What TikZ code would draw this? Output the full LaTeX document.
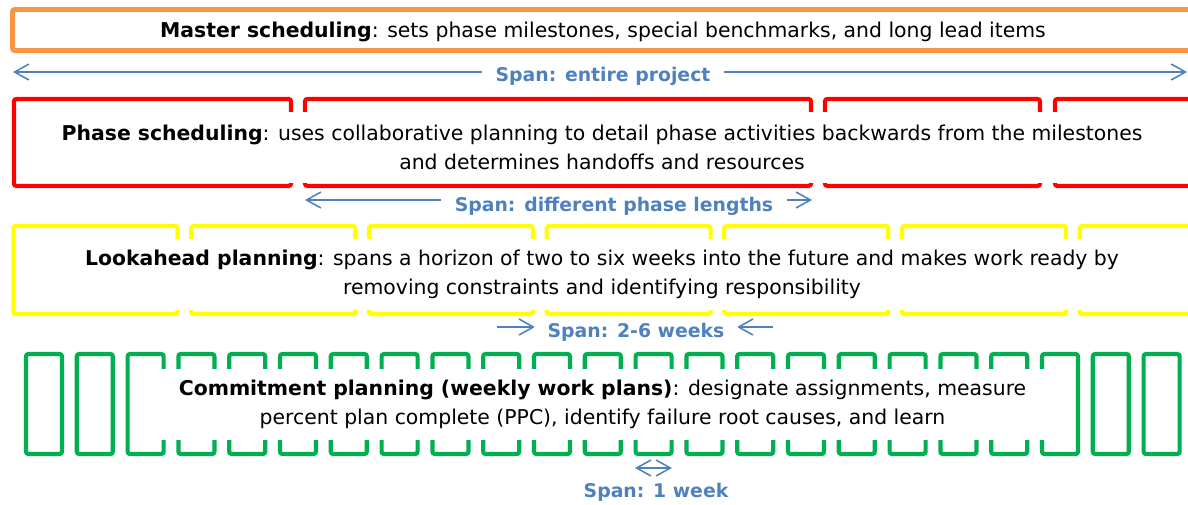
\documentclass[tikz,border=0pt]{standalone}
\usepackage{fontspec}
\setmainfont{DejaVu Sans}
\usetikzlibrary{arrows.meta}

\definecolor{mastercol}{HTML}{F79646}
\definecolor{phasecol}{HTML}{FF0000}
\definecolor{lookcol}{HTML}{FFFF00}
\definecolor{weekcol}{HTML}{00B050}
\definecolor{spancol}{HTML}{4F81BD}

\begin{document}
\begin{tikzpicture}[x=0.25mm,y=-0.25mm]
\tikzstyle{every node}+=[inner sep=0pt]
\tikzstyle{textbox}=[fill=white,align=center,font=\fontsize{14.5}{20.8}\selectfont]
\tikzstyle{framebox}=[line width=1.05mm,rounded corners=0.6mm]
\tikzstyle{spanline}=[spancol,line width=1.1pt,-{Straight Barb[length=3.6mm,width=4mm]}]
\tikzstyle{spanboth}=[spanline,{Straight Barb[length=3.6mm,width=4mm]}-{Straight Barb[length=3.6mm,width=4mm]}]
\tikzstyle{spanlabel}=[fill=white,inner xsep=3.5mm,inner ysep=1pt,text=spancol,font=\bfseries\fontsize{13.4}{16}\selectfont]
\useasboundingbox (0,0) rectangle (1188,504);
\clip (0,0) rectangle (1188,504);
% master scheduling
\draw [mastercol,framebox,line width=1.25mm] (12.5,9.5) rectangle (1196,50.5);
\node [textbox,fill=none] (master) at (603,32) {\textbf{Master scheduling}: sets phase milestones, special benchmarks, and long lead items};
\coordinate (e1) at (13,72);
\coordinate (e2) at (1187,72);
\draw [spanboth] (e1) -- (e2);
\node [spanlabel] (entire) at (603,76) {Span: entire project};
% phase scheduling
\foreach \a/\b in {14/291,305/811,825/1040,1055/1250}
  \draw [phasecol,framebox] (\a,99) rectangle (\b,186);
\node [textbox,minimum width=1158*0.25mm,minimum height=71*0.25mm] (phase) at (602,147.5) {\textbf{Phase scheduling}: uses collaborative planning to detail phase activities backwards from the milestones\\and determines handoffs and resources};
\coordinate (p1) at (305,200);
\coordinate (p2) at (812,200);
\draw [spanboth] (p1) -- (p2);
\node [spanlabel] (phaselen) at (614,206) {Span: different phase lengths};
% lookahead planning
\foreach \k in {0,...,6}
  \draw [lookcol,framebox] ({13.5+177.7*\k},226) rectangle ({177.5+177.7*\k},314);
\node [textbox,minimum width=1158*0.25mm,minimum height=71*0.25mm] (look) at (602,274.5) {\textbf{Lookahead planning}: spans a horizon of two to six weeks into the future and makes work ready by\\removing constraints and identifying responsibility};
\coordinate (w1) at (497,327);
\coordinate (w2) at (535,327);
\coordinate (w3) at (773,327);
\coordinate (w4) at (737,327);
\draw [spanline] (w1) -- (w2);
\draw [spanline] (w3) -- (w4);
\node [spanlabel] (lookspan) at (636,332) {Span: 2-6 weeks};
% commitment planning
\foreach \k in {0,...,22}
  \draw [weekcol,framebox] ({26+50.8*\k},354) rectangle ({62+50.8*\k},454);
\node [textbox,minimum width=935*0.25mm,minimum height=71*0.25mm] (commit) at (602.5,404) {\textbf{Commitment planning (weekly work plans)}: designate assignments, measure\\percent plan complete (PPC), identify failure root causes, and learn};
\coordinate (c1) at (635,468);
\coordinate (c2) at (672,468);
\draw [spanboth] (c1) -- (c2);
\node [spanlabel] (weekspan) at (656,492) {Span: 1 week};
\end{tikzpicture}
\end{document}
